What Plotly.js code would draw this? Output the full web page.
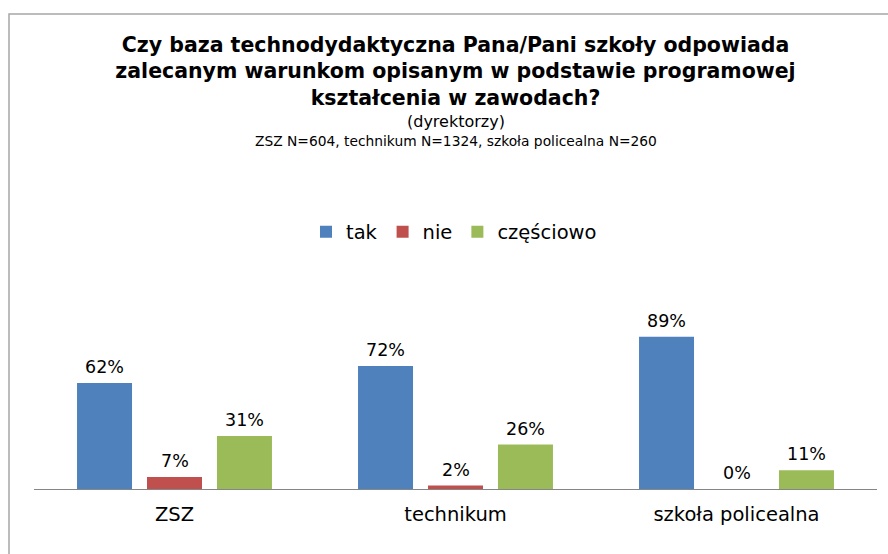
<!DOCTYPE html>
<html>
<head>
<meta charset="utf-8">
<script src="https://cdn.plot.ly/plotly-3.0.1.min.js"></script>
<style>html,body{margin:0;padding:0;background:#fff;}#chart{width:888px;height:554px;}</style>
</head>
<body>
<div id="chart"></div>
<script>
// ---- data ----
const categories = ["ZSZ", "technikum", "szkoła policealna"];
const seriesNames = ["tak", "nie", "częściowo"];
const takValues = [62, 72, 89];
const nieValues = [7, 2, 0];
const czesciowoValues = [31, 26, 11];
const titleLines = [
  "Czy baza technodydaktyczna Pana/Pani szkoły odpowiada",
  "zalecanym warunkom opisanym w podstawie programowej",
  "kształcenia w zawodach?"
];
const subtitle1 = "(dyrektorzy)";
const subtitle2 = "ZSZ N=604, technikum N=1324, szkoła policealna N=260";

// ---- style ----
const colors = ["#4F81BD", "#C0504D", "#9BBB59"];
const W = 888, H = 554;
const M = {l: 34, r: 11, t: 318, b: 65};
const plotW = W - M.l - M.r, plotH = H - M.t - M.b;
const px2x = px => (px - M.l) / plotW;
const px2y = py => (H - M.b - py) / plotH;
const FONT = "DejaVu Sans";

const allValues = [takValues, nieValues, czesciowoValues];
const traces = allValues.map((vals, i) => ({
  type: "bar",
  name: seriesNames[i],
  x: categories,
  y: vals,
  marker: {color: colors[i]},
  hoverinfo: "skip"
}));

const slot = 70; // px per bar slot inside a group
const annotations = [];
allValues.forEach((vals, i) => {
  vals.forEach((v, j) => {
    annotations.push({
      xref: "x", yref: "y", x: categories[j], y: v,
      text: v + "%", showarrow: false,
      xshift: (i - 1) * slot, yshift: 16, yanchor: "middle",
      font: {family: FONT, size: 17.5, color: "#000"}
    });
  });
});
annotations.push({
  xref: "paper", yref: "paper", x: 0.5, y: px2y(122), yanchor: "middle",
  text: subtitle1, showarrow: false, font: {family: FONT, size: 16, color: "#000"}
});
annotations.push({
  xref: "paper", yref: "paper", x: 0.5, y: px2y(141), yanchor: "middle",
  text: subtitle2, showarrow: false, font: {family: FONT, size: 13.8, color: "#000"}
});

const layout = {
  width: W, height: H,
  margin: M,
  paper_bgcolor: "#fff", plot_bgcolor: "#fff",
  font: {family: FONT, color: "#000"},
  title: {
    text: titleLines.join("<br>"),
    font: {family: FONT, size: 20.5, weight: "bold", color: "#000"},
    x: 0.5, xref: "paper", xanchor: "center",
    y: 1 - 51.5 / H, yref: "container", yanchor: "top"
  },
  barmode: "group",
  bargap: 0.253,
  bargroupgap: 0.214,
  xaxis: {
    showline: true, linecolor: "#868686", linewidth: 1,
    ticks: "", showgrid: false, zeroline: false,
    tickfont: {family: FONT, size: 19.5, color: "#000"},
    ticklabelstandoff: 8
  },
  yaxis: {
    range: [0, 100], visible: false, showgrid: false, zeroline: false
  },
  showlegend: true,
  legend: {
    orientation: "h", x: px2x(306), xanchor: "left", y: px2y(232), yanchor: "middle",
    font: {family: FONT, size: 19.5, color: "#000"},
    traceorder: "normal", bgcolor: "rgba(0,0,0,0)"
  },
  shapes: [{
    type: "rect", xref: "paper", yref: "paper",
    x0: px2x(9), x1: px2x(905), y0: px2y(14), y1: px2y(570),
    line: {color: "#A6A6A6", width: 1.5}, fillcolor: "rgba(0,0,0,0)", layer: "below"
  }],
  annotations: annotations
};

Plotly.newPlot("chart", traces, layout, {staticPlot: true, displayModeBar: false});
</script>
</body>
</html>
